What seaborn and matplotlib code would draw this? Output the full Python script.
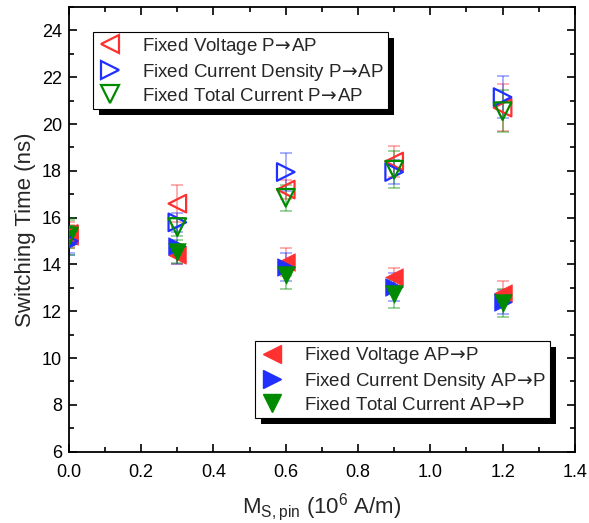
import matplotlib
matplotlib.use("Agg")
import matplotlib.pyplot as plt
import matplotlib.patheffects as pe
from matplotlib.ticker import MultipleLocator
import seaborn as sns
import pandas as pd

# ---- data ----
ms_pin = [0.0, 0.3, 0.6, 0.9, 1.2]

fv_p_ap = [15.3, 16.6, 17.2, 18.4, 20.7]
fv_p_ap_err = [0.5, 0.8, 0.4, 0.65, 1.0]
fcd_p_ap = [15.0, 15.8, 17.95, 17.95, 21.15]
fcd_p_ap_err = [0.5, 0.4, 0.8, 0.5, 0.9]
ftc_p_ap = [15.2, 15.6, 16.85, 18.05, 20.55]
ftc_p_ap_err = [0.8, 0.4, 0.55, 0.8, 0.9]

fv_ap_p = [15.2, 14.4, 14.1, 13.45, 12.8]
fv_ap_p_err = [0.5, 0.4, 0.6, 0.4, 0.5]
fcd_ap_p = [14.9, 14.8, 13.9, 13.05, 12.4]
fcd_ap_p_err = [0.5, 0.8, 0.6, 0.6, 0.5]
ftc_ap_p = [15.3, 14.55, 13.55, 12.75, 12.35]
ftc_ap_p_err = [0.6, 0.5, 0.6, 0.6, 0.6]

ARROW = r"$\!\rightarrow\!$"
labels_p_ap = [f"Fixed Voltage P{ARROW}AP", f"Fixed Current Density P{ARROW}AP",
               f"Fixed Total Current P{ARROW}AP"]
labels_ap_p = [f"Fixed Voltage AP{ARROW}P", f"Fixed Current Density AP{ARROW}P",
               f"Fixed Total Current AP{ARROW}P"]

RED, BLUE, GREEN = "#ff3030", "#1f30ff", "#008a00"

sns.set_theme(style="ticks")
plt.rcParams["font.family"] = ["Liberation Sans", "DejaVu Sans"]
plt.rcParams["mathtext.fontset"] = "dejavusans"

fig = plt.figure(figsize=(5.89, 5.23), dpi=100)
ax = fig.add_axes([0.117, 0.1363, 0.859, 0.8503])

open_series = [
    (fv_p_ap, fv_p_ap_err, "<", RED, labels_p_ap[0]),
    (fcd_p_ap, fcd_p_ap_err, ">", BLUE, labels_p_ap[1]),
    (ftc_p_ap, ftc_p_ap_err, "v", GREEN, labels_p_ap[2]),
]
filled_series = [
    (fv_ap_p, fv_ap_p_err, "<", RED, labels_ap_p[0]),
    (fcd_ap_p, fcd_ap_p_err, ">", BLUE, labels_ap_p[1]),
    (ftc_ap_p, ftc_ap_p_err, "v", GREEN, labels_ap_p[2]),
]

open_handles = []
filled_handles = []
for vals, err, m, c, lab in filled_series:
    ax.errorbar(ms_pin, vals, yerr=err, fmt="none", ecolor=c, alpha=0.45,
                elinewidth=1.2, capsize=4.5, capthick=1.2, zorder=2)
    df = pd.DataFrame({"x": ms_pin, "y": vals})
    sns.scatterplot(data=df, x="x", y="y", marker=m, s=160, color=c,
                    edgecolor=c, linewidth=0.5, ax=ax, zorder=3)
    filled_handles.append(plt.Line2D([], [], ls="none", marker=m, ms=12.5,
                                     color=c, mec=c, label=lab))
for vals, err, m, c, lab in open_series:
    ax.errorbar(ms_pin, vals, yerr=err, fmt="none", ecolor=c, alpha=0.45,
                elinewidth=1.2, capsize=4.5, capthick=1.2, zorder=2)
    df = pd.DataFrame({"x": ms_pin, "y": vals})
    sns.scatterplot(data=df, x="x", y="y", marker=m, s=160, facecolor="none",
                    edgecolor=c, linewidth=1.6, ax=ax, zorder=4)
    open_handles.append(plt.Line2D([], [], ls="none", marker=m, ms=12.5,
                                   mfc="none", mec=c, mew=1.6, label=lab))

ax.set_xlim(0, 1.4)
ax.set_ylim(6, 25)
ax.xaxis.set_major_locator(MultipleLocator(0.2))
ax.xaxis.set_minor_locator(MultipleLocator(0.1))
ax.yaxis.set_major_locator(MultipleLocator(2))
ax.yaxis.set_minor_locator(MultipleLocator(1))
ax.xaxis.set_major_formatter(plt.FuncFormatter(lambda v, p: f"{v:.1f}"))
ax.yaxis.set_major_formatter(plt.FuncFormatter(lambda v, p: f"{v:.0f}"))
ax.tick_params(which="both", direction="in", top=True, right=True,
               labeltop=False, labelright=False, colors="black", labelsize=13,
               width=1.2)
ax.tick_params(which="major", length=6)
ax.tick_params(which="minor", length=3.5)
ax.tick_params(axis="x", which="major", pad=9)
ax.tick_params(axis="y", which="major", pad=5)
for sp in ax.spines.values():
    sp.set_linewidth(1.3)
    sp.set_color("black")

ax.set_xlabel(r"M$_{\mathregular{S,pin}}$ (10$^{\mathregular{6}}$ A/m)",
              fontsize=16, labelpad=7)
ax.set_ylabel("Switching Time (ns)", fontsize=16, labelpad=4)

shadow = [pe.SimplePatchShadow(offset=(4.5, -4.5), shadow_rgbFace="black",
                               alpha=1.0), pe.Normal()]

common = dict(fontsize=13.5, frameon=True, fancybox=False, edgecolor="black",
              framealpha=1, borderpad=0.22, labelspacing=0.25,
              handletextpad=1.0, handlelength=1.4, borderaxespad=0.0)

leg1 = ax.legend(handles=open_handles, loc="upper left",
                 bbox_to_anchor=(0.047, 0.944), **common)
leg1.get_frame().set_linewidth(0.8)
leg1.get_frame().set_path_effects(shadow)
ax.add_artist(leg1)

leg2 = ax.legend(handles=filled_handles, loc="lower right",
                 bbox_to_anchor=(0.951, 0.076), **common)
leg2.get_frame().set_linewidth(0.8)
leg2.get_frame().set_path_effects(shadow)

fig.savefig("out.png", dpi=100)
